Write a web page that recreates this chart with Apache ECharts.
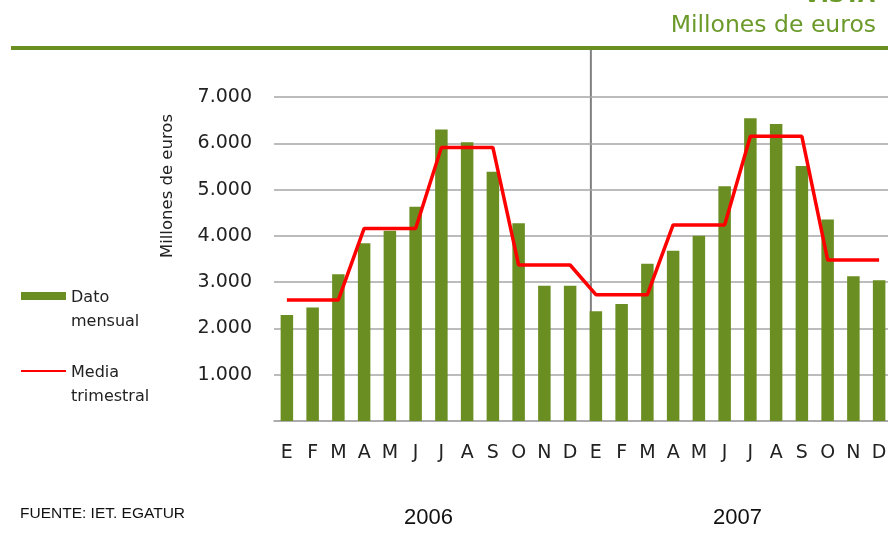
<!DOCTYPE html>
<html style="height: 100%">
<head>
<meta charset="utf-8">
<script src="https://cdn.jsdelivr.net/npm/echarts@6/dist/echarts.min.js"></script>
</head>
<body style="height: 100%; margin: 0; background: #fff">
<div id="container" style="width: 888px; height: 535px"></div>
<script type="text/javascript">
// month initials, one year
var meses = ['E', 'F', 'M', 'A', 'M', 'J', 'J', 'A', 'S', 'O', 'N', 'D'];
var anios = ['2006', '2007'];

// gasto mensual (millones de euros)
var dato2006 = [2290, 2450, 3170, 3840, 4110, 4630, 6300, 6020, 5385, 4270, 2920, 2920];
var dato2007 = [2370, 2530, 3400, 3680, 4000, 5070, 6540, 6415, 5510, 4355, 3125, 3040];

// media trimestral, same value for the three months of each quarter
var media2006 = [2615, 2615, 2615, 4160, 4160, 4160, 5910, 5910, 5910, 3370, 3370, 3370];
var media2007 = [2730, 2730, 2730, 4235, 4235, 4235, 6150, 6150, 6150, 3480, 3480, 3480];

var yTicks = [0, 1000, 2000, 3000, 4000, 5000, 6000, 7000];

var categorias = [];
anios.forEach(function (a) {
    meses.forEach(function (m, i) { categorias.push(m + '|' + a + '|' + i); });
});

var verde = '#6b8e23';
var fuente = '"DejaVu Sans", Verdana, sans-serif';

var dom = document.getElementById('container');
var myChart = echarts.init(dom, null, {renderer: 'canvas'});

var option = {
    animation: false,
    textStyle: {fontFamily: fuente},
    title: [{
        text: 'VISTA',
        right: 8,
        top: -20,
        textStyle: {fontFamily: fuente, fontSize: 22, fontWeight: 'bold', color: '#6b9a2a'}
    }, {
        text: 'Millones de euros',
        right: 7,
        top: 9,
        textStyle: {fontFamily: fuente, fontSize: 23.5, fontWeight: 'normal', color: '#6b9a2a'}
    }],
    legend: {
        orient: 'vertical',
        left: 20,
        top: 262,
        padding: 0,
        itemGap: 7,
        itemWidth: 45,
        itemHeight: 8,
        // blank first line so the icon sits beside the first word
        formatter: function (n) {
            var p = n.split(' ');
            return '{t| }\n{t|' + p[0] + '}\n{t|' + p[1] + '}';
        },
        textStyle: {
            fontFamily: fuente, fontSize: 16, color: '#222',
            rich: {t: {fontFamily: fuente, fontSize: 16, color: '#222', lineHeight: 24, padding: [4, 0, 0, 0]}}
        },
        data: [
            {name: 'Dato mensual', icon: 'rect'},
            {name: 'Media trimestral', lineStyle: {width: 2}, itemStyle: {opacity: 0}}
        ]
    },
    grid: {
        left: 274,
        top: 97,
        width: 618,
        height: 324,
        outerBoundsMode: 'none'
    },
    xAxis: [{
        type: 'category',
        data: categorias,
        axisLine: {lineStyle: {color: '#a6a6a6', width: 1.5}},
        axisTick: {show: false},
        axisLabel: {
            margin: 23,
            fontSize: 19,
            color: '#222',
            fontFamily: fuente,
            interval: 0,
            formatter: function (v) { return v.split('|')[0]; }
        }
    }, {
        type: 'category',
        data: anios,
        position: 'bottom',
        offset: 78,
        axisLine: {show: false},
        axisTick: {show: false},
        axisLabel: {
            fontSize: 22,
            color: '#111',
            fontFamily: '"Liberation Sans Narrow", "Liberation Sans", sans-serif'
        }
    }],
    yAxis: {
        type: 'value',
        min: yTicks[0],
        max: yTicks[yTicks.length - 1],
        interval: 1000,
        axisLine: {show: false},
        axisTick: {show: false},
        splitLine: {lineStyle: {color: '#a6a6a6', width: 1.5}},
        axisLabel: {
            margin: 22,
            fontSize: 19,
            color: '#222',
            fontFamily: fuente,
            formatter: function (v) {
                if (v === 0) return '';
                return String(v).replace(/\B(?=(\d{3})+(?!\d))/g, '.');
            }
        }
    },
    graphic: [{
        type: 'rect',
        shape: {x: 11, y: 46, width: 877, height: 4},
        style: {fill: verde},
        silent: true
    }, {
        type: 'text',
        x: 168,
        y: 186,
        rotation: Math.PI / 2,
        style: {
            text: 'Millones de euros',
            fontFamily: fuente,
            fontSize: 16.5,
            fill: '#222',
            align: 'center',
            verticalAlign: 'middle'
        }
    }, {
        type: 'text',
        x: 20,
        y: 514,
        style: {
            text: 'FUENTE: IET. EGATUR',
            fontFamily: '"Liberation Sans Narrow", "Liberation Sans", sans-serif',
            fontSize: 15.5,
            fill: '#111',
            verticalAlign: 'middle'
        }
    }],
    series: [{
        name: 'Dato mensual',
        type: 'bar',
        barWidth: 12.5,
        itemStyle: {color: verde},
        data: dato2006.concat(dato2007)
    }, {
        name: 'Media trimestral',
        type: 'line',
        symbol: 'none',
        lineStyle: {color: '#ff0000', width: 3.5},
        itemStyle: {color: '#ff0000'},
        data: media2006.concat(media2007)
    }]
};

myChart.setOption(option, true);

// year separator: just left of the first 2007 bar, from the green rule down to the axis
var xSep = myChart.convertToPixel({xAxisIndex: 0}, categorias[12]) - 5;
var yBase = myChart.convertToPixel({yAxisIndex: 0}, 0);
myChart.setOption({
    graphic: option.graphic.concat([{
        type: 'line',
        shape: {x1: xSep, y1: 50, x2: xSep, y2: yBase},
        style: {stroke: '#808080', lineWidth: 2},
        silent: true
    }])
});
</script>
</body>
</html>
